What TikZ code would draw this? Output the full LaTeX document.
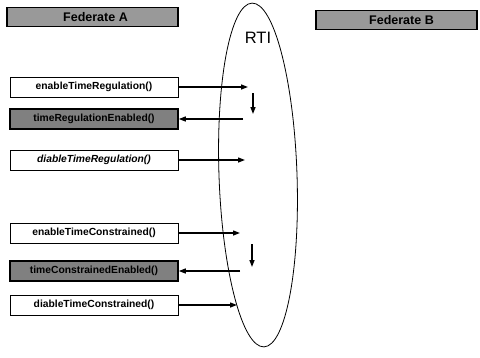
\documentclass[tikz,border=0pt]{standalone}
\usepackage{fontspec}
\setmainfont{Liberation Sans}
\usetikzlibrary{arrows.meta,shapes.geometric}
\begin{document}
\begin{tikzpicture}[x=1pt,y=-1pt,
  callbox/.style={draw, line width=0.9pt, fill=white, minimum width=168pt, minimum height=20pt,
    inner sep=0pt, font=\fontsize{10.3}{12}\selectfont\bfseries},
  replybox/.style={callbox, fill=black!50, line width=1.6pt},
  header/.style={draw, line width=1.1pt, fill=black!40, minimum height=19pt, inner sep=0pt,
    font=\fontsize{12.5}{14}\selectfont\bfseries},
  msg/.style={line width=1.3pt, -{Triangle[length=7pt,width=5pt]}},
  rtiring/.style={draw, ellipse, line width=0.8pt, minimum width=78pt, minimum height=344pt, inner sep=0pt},
]
\useasboundingbox (0,0) rectangle (480,357);

% federate headers
\node[header, minimum width=171pt] (fedA) at (92.5,17) {\hspace*{6pt}Federate A};
\node[header, minimum width=161pt] (fedB) at (396.5,20) {\hspace*{10pt}Federate B};

% the run-time infrastructure
\node[rtiring, rotate=2] (rti) at (258,175) {};
\node[font=\fontsize{16.5}{18}\selectfont] (rtilabel) at (258,38) {RTI};

% service calls and callbacks of federate A
\node[callbox]  (b1) at (94,87)  {enableTimeRegulation()};
\node[replybox] (b2) at (94,119) {timeRegulationEnabled()};
\node[callbox, font=\fontsize{10.3}{12}\selectfont\bfseries\itshape] (b3) at (94,160) {diableTimeRegulation()};
\node[callbox]  (b4) at (94,233) {enableTimeConstrained()};
\node[replybox] (b5) at (94,271) {timeConstrainedEnabled()};
\node[callbox]  (b6) at (94,305) {diableTimeConstrained()};

% arrow ends inside the RTI
\coordinate (r1) at (248,87);
\coordinate (s2) at (243,119);
\coordinate (r3) at (245,160);
\coordinate (r4) at (240,233);
\coordinate (s5) at (240,271);
\coordinate (r6) at (237,305);
\coordinate (d1a) at (253,93);
\coordinate (d1b) at (253,114);
\coordinate (d2a) at (252,244);
\coordinate (d2b) at (252,267);

\draw[msg] (b1.east) -- (r1);
\draw[msg] (s2) -- (b2.east);
\draw[msg] (b3.east) -- (r3);
\draw[msg] (b4.east) -- (r4);
\draw[msg] (s5) -- (b5.east);
\draw[msg] (b6.east) -- (r6);
\draw[msg] (d1a) -- (d1b);
\draw[msg] (d2a) -- (d2b);
\end{tikzpicture}
\end{document}
